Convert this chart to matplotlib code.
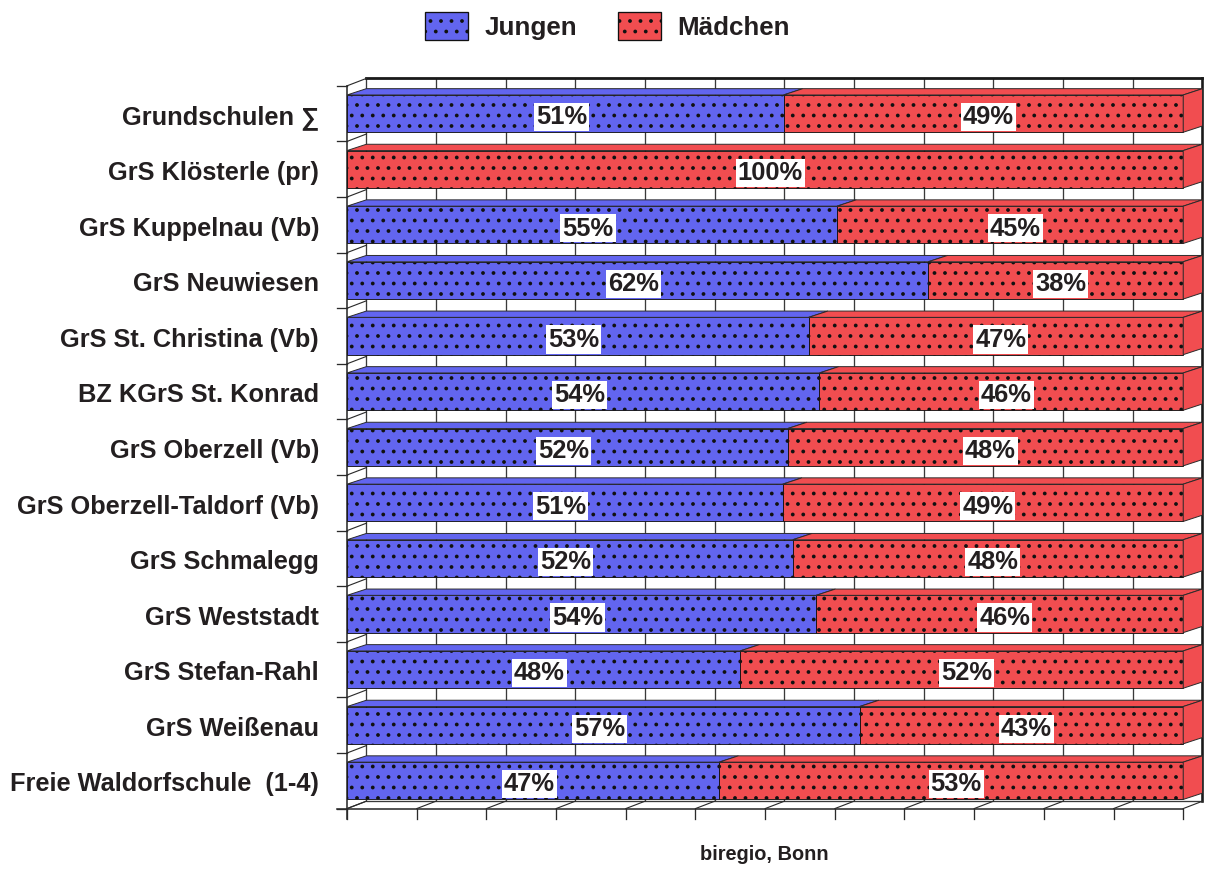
import matplotlib
matplotlib.use("Agg")
import matplotlib.pyplot as plt
from matplotlib.patches import Polygon, Patch
import numpy as np

# ---------------- data ----------------
categories = ["Grundschulen \u2211", "GrS Klösterle (pr)", "GrS Kuppelnau (Vb)", "GrS Neuwiesen",
              "GrS St. Christina (Vb)", "BZ KGrS St. Konrad", "GrS Oberzell (Vb)",
              "GrS Oberzell-Taldorf (Vb)", "GrS Schmalegg", "GrS Weststadt",
              "GrS Stefan-Rahl", "GrS Weißenau", "Freie Waldorfschule  (1-4)"]
# share of the bar drawn for Jungen (percent of full bar length, as drawn)
jungen_bar = [52.2, 0.0, 58.6, 69.5, 55.2, 56.5, 52.7, 52.1, 53.3, 56.1, 47.0, 61.3, 44.5]
jungen_labels = ["51%", "", "55%", "62%", "53%", "54%", "52%", "51%", "52%", "54%", "48%", "57%", "47%"]
maedchen_labels = ["49%", "100%", "45%", "38%", "47%", "46%", "48%", "49%", "48%", "46%", "52%", "43%", "53%"]
series = ["Jungen", "Mädchen"]
x_ticks = list(np.linspace(0, 100, 13))
source = "biregio, Bonn"

# ---------------- style / layout ----------------
DPI = 63
W, H = 1208, 876
BLUE = "#6265EF"
RED = "#F14D50"
EDGE = "#111111"
TXT = "#231F20"
FONT = ["Liberation Sans", "DejaVu Sans"]
plt.rcParams["font.family"] = FONT
plt.rcParams["hatch.linewidth"] = 1.9

def pt(px):
    return px * 72.0 / DPI

FX0, FX1 = 347.0, 1183.0   # front plane x extent (px)
FY0, FY1 = 86.0, 808.6     # front plane y extent (px)
AL, AR, AT, AB = 325.0, 1215.0, 70.0, 832.0

fig = plt.figure(figsize=((W + 0.2) / DPI, (H + 0.2) / DPI), dpi=DPI)
fig.patch.set_facecolor("white")
ax = fig.add_axes([AL / W, 1 - AB / H, (AR - AL) / W, (AB - AT) / H])
n = len(categories)
sx = 100.0 / (FX1 - FX0)
sy = n / (FY1 - FY0)
ax.set_xlim((AL - FX0) * sx, (AR - FX0) * sx)
ax.set_ylim(n - 0.5 + (AB - FY1) * sy, -0.5 + (AT - FY0) * sy)
ax.axis("off")

DX = 19.3 * sx
DYW = -7.4 * sy
DYB = -6.3 * sy
BH = 37.3 * sy
rows = np.arange(n)
ytop, ybot = -0.5, n - 0.5

# ---------------- back wall / floor / grid ----------------
gk = dict(color="#3a3a3a", lw=1.5, zorder=1, solid_capstyle="butt")
for xv in x_ticks[1:-1]:
    ax.plot([xv + DX, xv + DX], [ytop + DYW, ybot + DYW], **gk)
ax.plot([DX, DX], [ytop + DYW, ybot + DYW], **gk)
ax.plot([100 + DX, 100 + DX], [ytop + DYW, ybot + DYW], color="#1a1a1a", lw=3, zorder=1)
ax.plot([DX, 100 + DX], [ytop + DYW, ytop + DYW], color="#1a1a1a", lw=3.2, zorder=1)
ax.plot([DX, 100 + DX], [ybot + DYW, ybot + DYW], **gk)
ax.plot([-10 * sx, 100], [ybot, ybot], color="#2a2a2a", lw=1.8, zorder=1)
for xv in x_ticks:
    ax.plot([xv, xv + DX], [ybot, ybot + DYW], color="#2a2a2a", lw=1.3, zorder=1)
    ax.plot([xv, xv], [ybot, ybot + 10 * sy], color="#2a2a2a", lw=1.5, zorder=1)
ax.plot([0, 0], [ytop, ybot + 10 * sy], color="#2a2a2a", lw=1.8, zorder=1)
for b in np.arange(n + 1) - 0.5:
    ax.plot([-10 * sx, 0], [b, b], color="#2a2a2a", lw=1.5, zorder=1)
    ax.plot([0, DX], [b, b + DYW], color="#2a2a2a", lw=1.3, zorder=1)

# ---------------- bars ----------------
jb = np.array(jungen_bar)
mb = 100 - jb
ax.barh(rows, jb, height=BH, color=BLUE, hatch=".", edgecolor=EDGE, lw=1.0, zorder=3)
ax.barh(rows, mb, left=jb, height=BH, color=RED, hatch=".", edgecolor=EDGE, lw=1.0, zorder=3)

for i in rows:
    t = i - BH / 2
    bt = i + BH / 2
    segs = [(0, jb[i], BLUE), (jb[i], 100, RED)]
    for l, r, c in segs:
        if r - l <= 0:
            continue
        ax.add_patch(Polygon([(l, t), (r, t), (r + DX, t + DYB), (l + DX, t + DYB)],
                             closed=True, facecolor=c, edgecolor="#2a2a2a", lw=1.1, zorder=3))
    ax.add_patch(Polygon([(100, t), (100 + DX, t + DYB), (100 + DX, bt + DYB), (100, bt)],
                         closed=True, facecolor=RED, edgecolor="#2a2a2a", lw=1.1, zorder=3))

# ---------------- value labels ----------------
lab_kw = dict(ha="center", va="center", fontsize=pt(25.5), fontweight="bold", color=TXT,
              zorder=6, bbox=dict(boxstyle="square,pad=0.08", facecolor="white", edgecolor="none"))
for i in rows:
    yc = i + 3.5 * sy
    if jungen_labels[i]:
        ax.text(jb[i] / 2 - 4 * sx, yc, jungen_labels[i], **lab_kw)
    ax.text((jb[i] + 100) / 2 + 5 * sx, yc, maedchen_labels[i], **lab_kw)

# ---------------- category labels ----------------
for i, c in enumerate(categories):
    ax.text((319 - FX0) * sx, i + 3.5 * sy, c, ha="right", va="center",
            fontsize=pt(25.4), fontweight="bold", color=TXT)

# ---------------- legend ----------------
handles = [Patch(facecolor=BLUE, edgecolor="#111111", hatch=".", lw=1.5),
           Patch(facecolor=RED, edgecolor="#111111", hatch=".", lw=1.5)]
leg = fig.legend(handles, series, loc="center", bbox_to_anchor=(607.5 / W, 1 - 26 / H),
                 ncol=2, frameon=False, prop=dict(family=FONT, weight="bold", size=pt(26)),
                 handlelength=1.65, handleheight=1.3, handletextpad=0.65, columnspacing=1.55)
for t in leg.get_texts():
    t.set_color(TXT)

# ---------------- source ----------------
fig.text(764 / W, 1 - 854 / H, source, ha="center", va="center", fontsize=pt(20),
         fontweight="bold", color=TXT)

fig.savefig("out.png", dpi=DPI, facecolor="white")
